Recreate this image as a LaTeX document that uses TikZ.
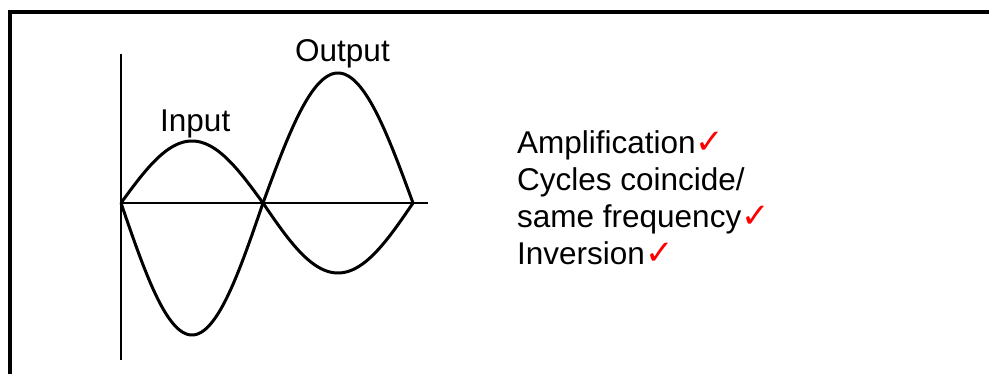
\documentclass[tikz,border=0pt]{standalone}
\usepackage{fontspec}
\setmainfont{Liberation Sans}
\newfontfamily\checkfont{DejaVu Sans}
\begin{document}
\begin{tikzpicture}[x=1pt,y=-1pt,
  lbl/.style={inner sep=0pt,anchor=base west,font=\fontsize{31.5}{37}\selectfont},
  wave/.style={line width=3pt,line join=round},
  axis/.style={line width=2.5pt},
  frame/.style={line width=4.2pt}]
\newcommand{\tick}{{\color{red}\checkfont\fontsize{34}{34}\selectfont\char"2713}}
\useasboundingbox (0,0) rectangle (989,374);
% frame
\coordinate (fb) at (10,374);
\coordinate (fc) at (10,12);
\coordinate (fr) at (989,12);
\draw[frame] (fb) -- (fc) -- (fr);
% axes
\coordinate (vt) at (121,54);
\coordinate (vb) at (121,360);
\coordinate (o) at (121,203);
\coordinate (he) at (428,203);
\draw[axis] (vt) -- (vb);
\draw[axis] (o) -- (he);
% input wave
\draw[wave] plot[domain=0:1,samples=80,smooth] ({121+142*\x},{203-62*sin(180*\x)});
\draw[wave] plot[domain=0:1,samples=80,smooth] ({263+150*\x},{203+70*sin(180*\x)});
% output wave
\draw[wave] plot[domain=0:1,samples=80,smooth] ({121+142*\x},{203+132*sin(180*\x)});
\draw[wave] plot[domain=0:1,samples=80,smooth] ({263+150*\x},{203-130*sin(180*\x)});
% labels
\node[lbl] (input) at (160,132) {Input};
\node[lbl] (output) at (295,62) {Output};
\node[lbl] (l1) at (517,154) {Amplification\tick};
\node[lbl] (l2) at (517,191) {Cycles coincide/};
\node[lbl] (l3) at (517,228) {same frequency\tick};
\node[lbl] (l4) at (517,265) {Inversion\tick};
\end{tikzpicture}
\end{document}
